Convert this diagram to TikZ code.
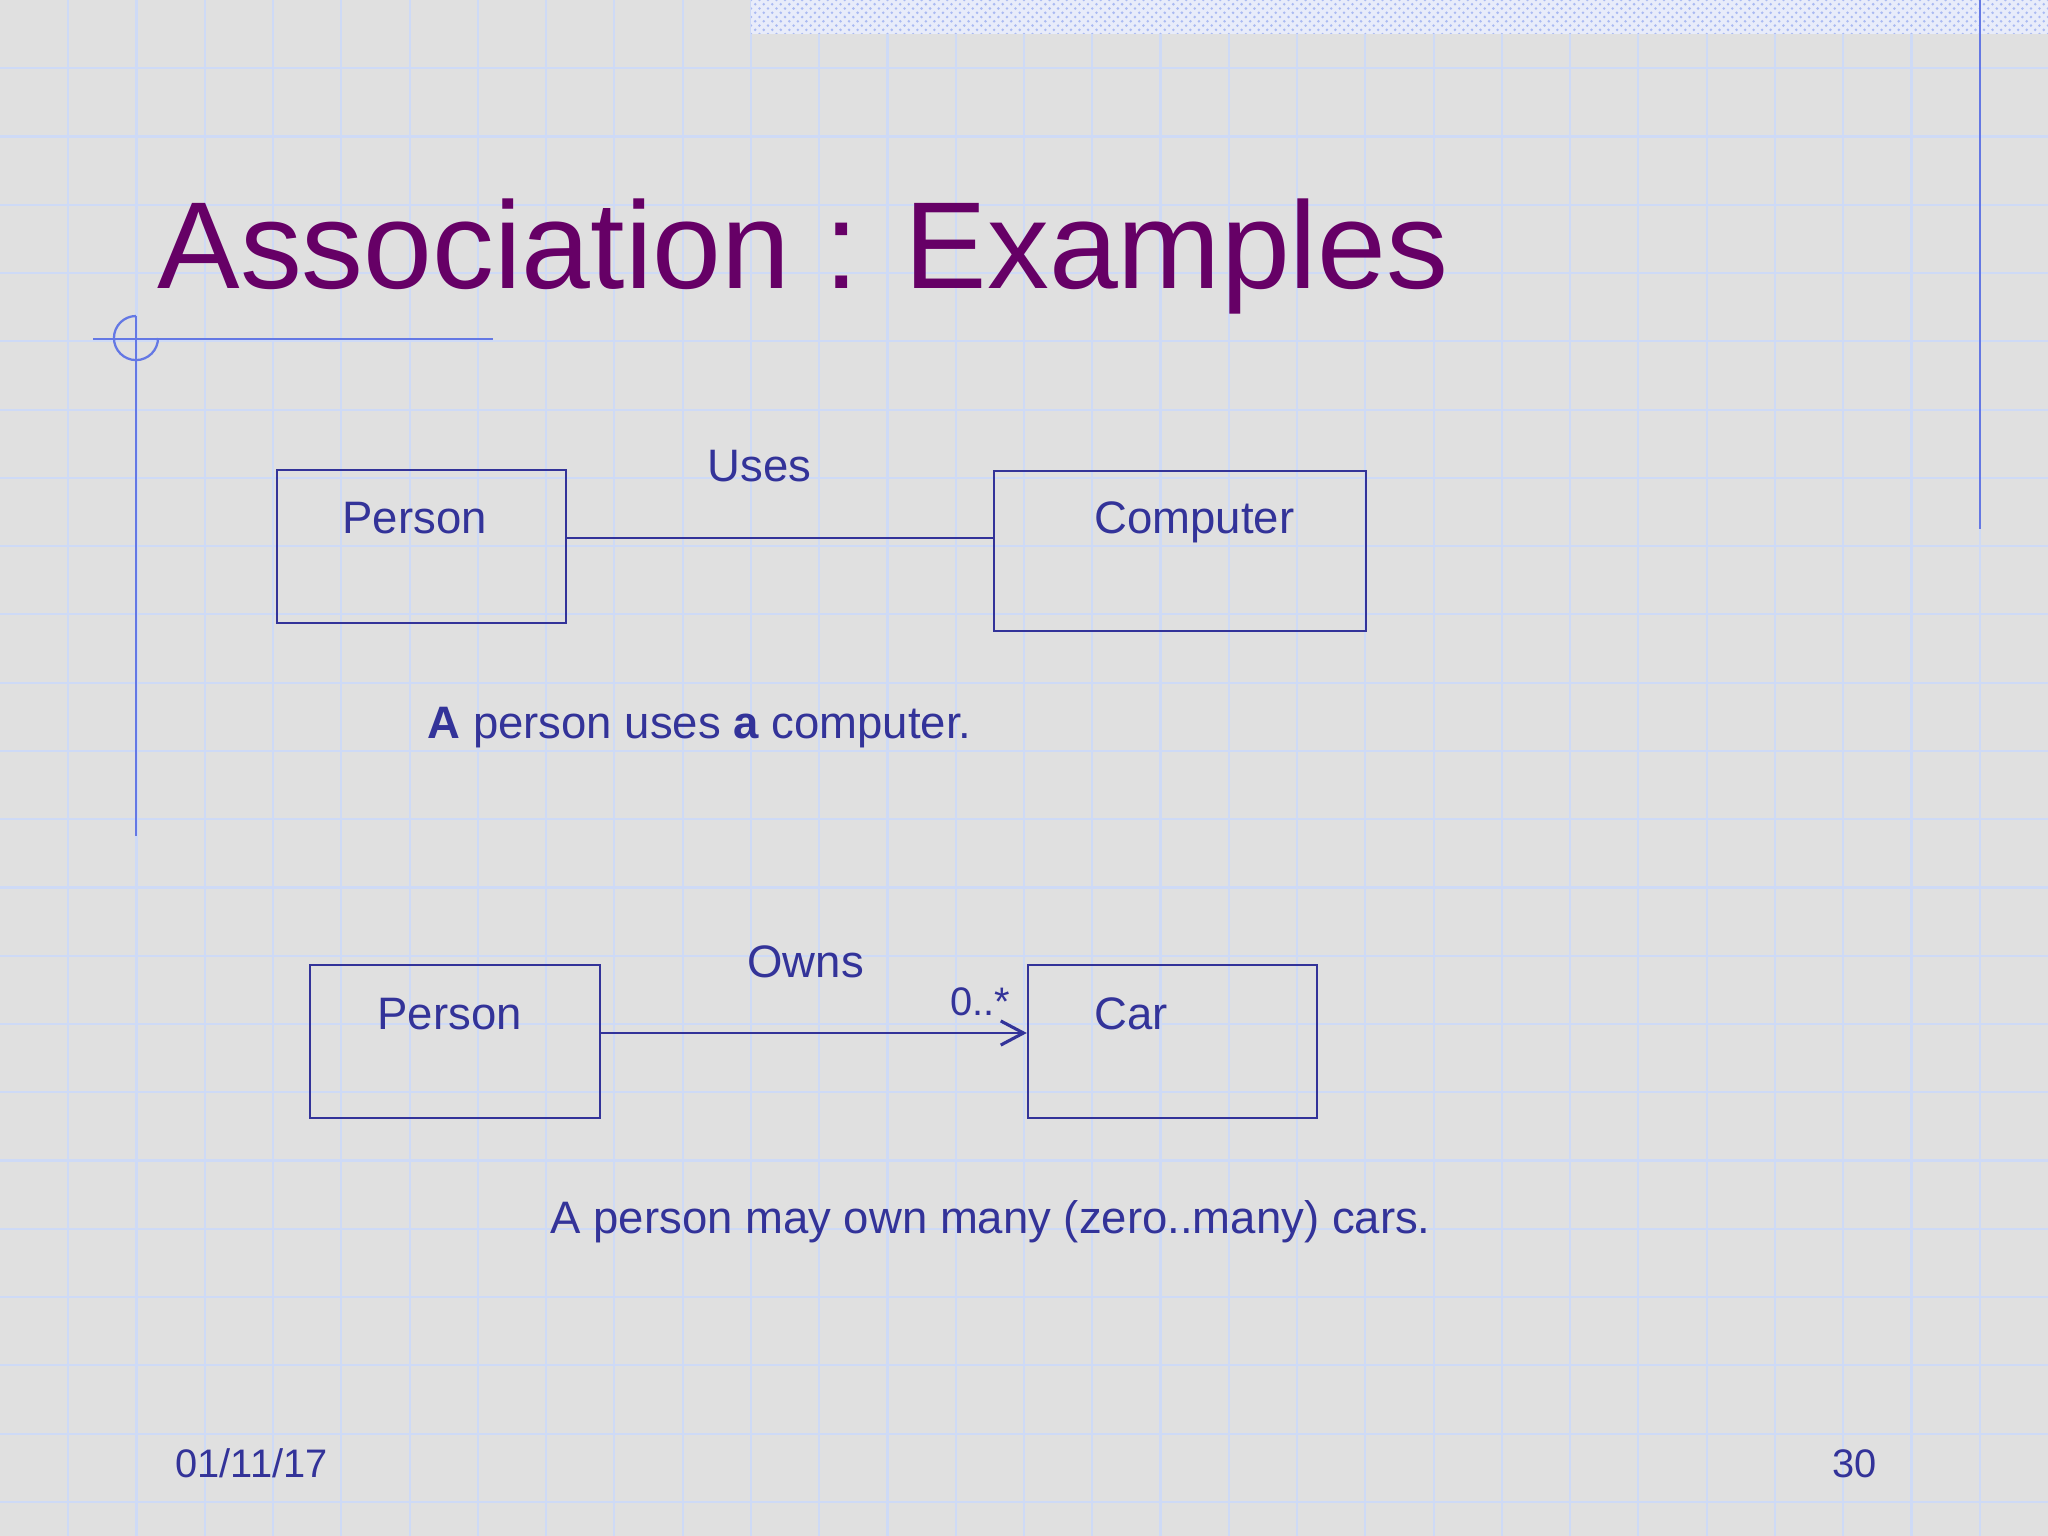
\documentclass[tikz,border=0pt]{standalone}
\usepackage{fontspec}
\setmainfont{Liberation Sans}
\usetikzlibrary{arrows.meta,fit,patterns}
\definecolor{bg}{RGB}{224,224,224}
\definecolor{gridc}{RGB}{206,218,246}
\definecolor{deco}{RGB}{100,120,228}
\definecolor{ink}{RGB}{51,51,153}
\definecolor{titlec}{RGB}{102,0,102}
\definecolor{stripbg}{RGB}{232,236,250}
\definecolor{stripdot}{RGB}{170,186,242}
\begin{document}
\begin{tikzpicture}[x=0.3515625pt,y=-0.3515625pt,
  umlbox/.style={draw=ink,line width=0.85pt,inner sep=0pt},
  txt/.style={text=ink,font=\fontsize{16}{19}\selectfont,inner sep=0pt,anchor=base west},
  smalltxt/.style={text=ink,font=\fontsize{14}{17}\selectfont,inner sep=0pt,anchor=base west},
  decoline/.style={draw=deco,line width=0.8pt},
  gridline/.style={draw=gridc,line width=0.75pt},
  assoc/.style={draw=ink,line width=0.8pt},
  navig/.style={draw=ink,line width=0.8pt,-{Straight Barb[length=8pt,width=8.5pt,line width=1.1pt]}}]
\fill[bg] (0,0) rectangle (2048,1536);
\useasboundingbox (0,0) rectangle (2048,1536);
% grid
\foreach \i in {1,...,29} \draw[gridline] ({\i*68.2667},0) -- ({\i*68.2667},1536);
\foreach \j in {1,...,22} \draw[gridline] (0,{\j*68.2667}) -- (2048,{\j*68.2667});
% top strip
\fill[stripbg] (751,0) rectangle (2048,34);
\fill[pattern=crosshatch dots,pattern color=stripdot] (751,0) rectangle (2048,34);
% decorative lines
\draw[decoline] (93,339) -- (493,339);
\draw[decoline] (136,316) -- (136,836);
\draw[decoline] (136,316) arc[start angle=90,end angle=360,radius=7.75pt];
\draw[decoline] (1980,0) -- (1980,529);
% title
\node[anchor=base west,text=titlec,font=\fontsize{43.5}{50}\selectfont,inner sep=0pt] (title) at (157,289) {Association : Examples};
% first example
\node[umlbox,fit={(277,470) (566,623)}] (person1) {};
\node[umlbox,fit={(994,471) (1366,631)}] (computer) {};
\node[txt] (person1t) at (342,534) {Person};
\node[txt] (computert) at (1094,534) {Computer};
\coordinate (l1) at (0,538);
\draw[assoc] (person1.east |- l1) -- (computer.west |- l1);
\node[txt] (uses) at (707,482) {Uses};
\node[txt] (cap1) at (427,739) {{\bfseries A} person uses {\bfseries a} computer.};
% second example
\node[umlbox,fit={(310,965) (600,1118)}] (person2) {};
\node[umlbox,fit={(1028,965) (1317,1118)}] (car) {};
\node[txt] (person2t) at (377,1029) {Person};
\node[txt] (cart) at (1094,1029) {Car};
\coordinate (l2) at (0,1033);
\draw[navig] (person2.east |- l2) -- (car.west |- l2);
\node[txt] (owns) at (747,977) {Owns};
\node[smalltxt] (mult) at (950,1015) {0..*};
\node[txt] (cap2) at (550,1233) {A person may own many (zero..many) cars.};
% footer
\node[smalltxt] (date) at (175,1477) {01/11/17};
\node[smalltxt] (page) at (1832,1477) {30};
\end{tikzpicture}
\end{document}
